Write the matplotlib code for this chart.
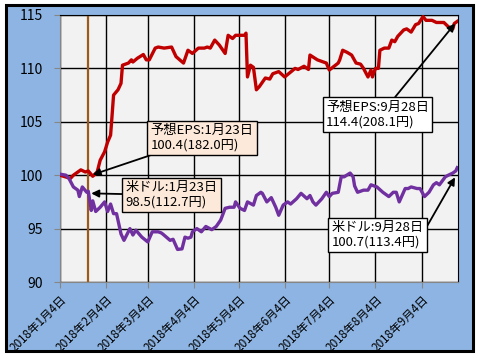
import pandas as pd
import matplotlib.pyplot as plt
import matplotlib.dates as mdates
from matplotlib.patches import Rectangle

plt.rcParams['font.family'] = ['Noto Sans CJK JP', 'DejaVu Sans']

start = pd.Timestamp('2018-01-04')

# days after 2018-01-04, value (index, 2018/1/4 = 100)
eps_days = [0, 7, 9, 14, 17, 19, 22, 25, 27, 30, 32, 34, 35, 36, 39, 41, 42, 46, 48, 49,
            52, 56, 58, 60, 64, 66, 70, 75, 78, 83, 86, 89, 93, 97, 99, 101, 104, 107, 111,
            113, 116, 118, 124, 125, 126, 128, 130, 132, 134, 138, 141, 143, 147, 151, 158,
            160, 164, 167, 168, 173, 175, 179, 181, 187, 188, 190, 193, 196, 199, 202, 204,
            207, 209, 210, 212, 214, 215, 218, 221, 223, 225, 227, 231, 233, 236, 239, 241,
            244, 246, 250, 253, 258, 261, 264, 265, 267]
eps_vals = [100.0, 99.7, 100.0, 100.5, 100.3, 100.4, 99.9, 100.3, 101.4, 102.2, 103.1, 103.75,
            105.6, 107.5, 108.0, 108.6, 110.3, 110.5, 110.8, 110.6, 110.95, 111.3, 110.8, 110.8,
            111.9, 112.0, 111.9, 112.0, 111.1, 110.5, 111.7, 111.4, 111.9, 111.9, 112.0, 111.9,
            112.65, 112.2, 111.4, 113.1, 112.8, 113.1, 113.1, 113.3, 109.2, 110.3, 110.1, 108.0,
            108.3, 109.1, 109.0, 109.5, 109.7, 109.2, 110.0, 109.9, 110.2, 109.9, 111.25, 110.8,
            110.7, 110.5, 109.85, 110.5, 110.8, 111.7, 111.5, 111.25, 110.5, 110.4, 110.0, 109.2,
            109.85, 109.2, 110.0, 110.0, 111.7, 111.9, 111.9, 112.65, 112.5, 113.0, 113.6, 113.7,
            113.4, 114.1, 114.2, 114.85, 114.5, 114.5, 114.3, 114.3, 113.9, 113.7, 114.2, 114.4]

usd_days = [0, 4, 6, 9, 12, 13, 15, 18, 19, 21, 22, 24, 27, 30, 32, 34, 36, 38, 41, 43, 47,
            49, 51, 55, 59, 62, 66, 68, 69, 74, 76, 79, 82, 84, 86, 88, 89, 92, 95, 98, 102,
            105, 108, 111, 114, 117, 118, 121, 124, 126, 130, 132, 135, 136, 139, 142, 145,
            147, 150, 153, 155, 159, 162, 166, 168, 170, 172, 176, 179, 181, 183, 187, 189,
            191, 195, 197, 198, 200, 204, 207, 209, 213, 217, 221, 224, 226, 228, 232, 234,
            236, 240, 242, 245, 248, 251, 253, 255, 259, 261, 264, 266, 267]
usd_vals = [100.1, 100.0, 99.7, 98.9, 98.6, 98.0, 98.9, 98.4, 98.5, 96.7, 97.6, 96.6, 97.0,
            97.5, 96.6, 97.3, 96.4, 96.4, 94.5, 93.9, 95.0, 94.4, 94.85, 94.2, 93.75, 94.7,
            94.7, 94.6, 94.5, 93.9, 94.0, 93.05, 93.1, 94.2, 94.1, 94.2, 94.7, 95.0, 94.7,
            95.2, 94.9, 95.2, 95.8, 96.9, 97.0, 97.0, 97.5, 96.9, 96.7, 97.5, 97.2, 98.1,
            98.4, 98.3, 97.5, 97.9, 97.0, 96.25, 97.2, 97.5, 97.3, 97.8, 98.3, 97.8, 98.1,
            97.5, 97.2, 97.8, 98.4, 98.0, 98.3, 98.4, 99.85, 99.85, 100.2, 99.85, 99.0, 98.4,
            98.6, 98.6, 99.1, 98.9, 98.4, 98.0, 98.4, 98.4, 97.5, 98.75, 98.75, 98.9, 98.75,
            98.75, 98.0, 98.4, 99.1, 99.3, 99.1, 99.85, 100.0, 100.2, 100.4, 100.7]

tick_dates = ['2018-01-04', '2018-02-04', '2018-03-04', '2018-04-04', '2018-05-04',
              '2018-06-04', '2018-07-04', '2018-08-04', '2018-09-04']
tick_labels = ['2018年1月4日', '2018年2月4日', '2018年3月4日', '2018年4月4日', '2018年5月4日',
               '2018年6月4日', '2018年7月4日', '2018年8月4日', '2018年9月4日']

mark_date = pd.Timestamp('2018-01-23')
end_date = pd.Timestamp('2018-09-28')


def d(days):
    return start + pd.to_timedelta(days, unit='D')


fig = plt.figure(figsize=(4.8, 3.6), dpi=100)
fig.patch.set_facecolor('white')
fig.patches.append(Rectangle((6 / 480, 9 / 360), 467 / 480, 346 / 360, transform=fig.transFigure,
                             facecolor='#8DB4E2', edgecolor='black', lw=2.2, zorder=-5))

ax = fig.add_axes([60 / 480, 78 / 360, 398 / 480, 267 / 360])
ax.set_facecolor('#F2F2F2')

ax.plot(d(eps_days), eps_vals, color='#C00000', lw=2.4, zorder=3)
ax.plot(d(usd_days), usd_vals, color='#7030A0', lw=2.4, zorder=3)
ax.axvline(mark_date, color='#9C5B1C', lw=1.6, zorder=2)

ax.set_ylim(90, 115)
ax.set_yticks([90, 95, 100, 105, 110, 115])
ax.set_xlim(start, end_date + pd.Timedelta(hours=12))
ax.set_xticks(pd.to_datetime(tick_dates))
ax.set_xticklabels(tick_labels, rotation=45, ha='right', rotation_mode='anchor', fontsize=8.4)
ax.tick_params(axis='y', labelsize=10, length=4, color='#868686', pad=8)
ax.tick_params(axis='x', length=4, color='#868686', pad=4)
ax.grid(True, color='black', lw=1.0, zorder=1)
ax.set_axisbelow(True)
for s in ['left', 'bottom']:
    ax.spines[s].set_color('#868686')
for s in ['top', 'right']:
    ax.spines[s].set_color('black')

arrow = dict(arrowstyle='-|>', color='black', lw=1.3, mutation_scale=11, shrinkA=0, shrinkB=0)
txt = dict(fontsize=9.5, linespacing=1.15, multialignment='left', zorder=5)

ax.annotate('予想EPS:1月23日\n100.4(182.0円)', xy=(d(22), 100.05), xytext=(d(95.6), 103.5),
            ha='center', va='center',
            bbox=dict(boxstyle='square,pad=0.25', fc='#FDE9D9', ec='black', lw=1),
            arrowprops=arrow, **txt)
ax.annotate('米ドル:1月23日\n98.5(112.7円)', xy=(d(21), 98.3), xytext=(d(75), 98.13),
            ha='center', va='center',
            bbox=dict(boxstyle='square,pad=0.25', fc='#FDE9D9', ec='black', lw=1),
            arrowprops=arrow, **txt)
ax.annotate('予想EPS:9月28日\n114.4(208.1円)', xy=(d(265.5), 114.2), xytext=(d(213.5), 105.68),
            ha='center', va='center',
            bbox=dict(boxstyle='square,pad=0.25', fc='white', ec='black', lw=1),
            arrowprops=dict(arrow, relpos=(0.64, 1.0)), **txt)
ax.annotate('米ドル:9月28日\n100.7(113.4円)', xy=(d(265.5), 99.8), xytext=(d(213.4), 94.4),
            ha='center', va='center',
            bbox=dict(boxstyle='square,pad=0.25', fc='white', ec='black', lw=1),
            arrowprops=dict(arrow, relpos=(1.0, 0.6)), **txt)

fig.savefig('out.png', dpi=100)
